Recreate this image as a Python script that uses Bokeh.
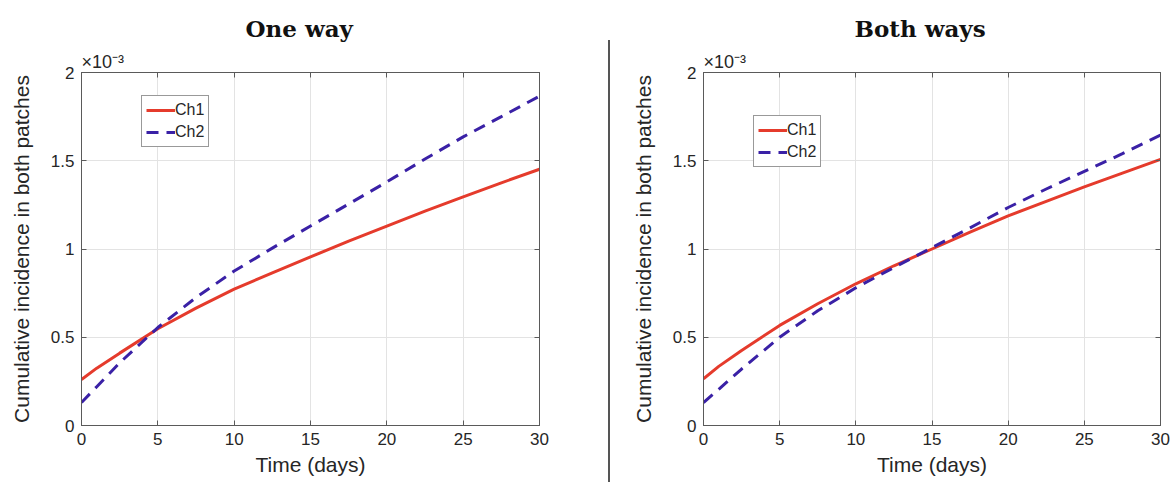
from bokeh.plotting import figure
from bokeh.models import (Legend, LegendItem, LinearAxis, FixedTicker,
                          CustomJSTickFormatter, Range1d, Div, Title)
from bokeh.layouts import row
from bokeh.embed import file_html
from bokeh.resources import INLINE

# ---------------- data (incidence values in units of 1e-3) ----------------
days = [0, 1, 2.5, 5, 7.5, 10, 12.5, 15, 17.5, 20, 22.5, 25, 27.5, 30]

one_way_ch1 = [0.26, 0.325, 0.41, 0.548, 0.665, 0.773, 0.865, 0.955, 1.045,
               1.13, 1.215, 1.295, 1.375, 1.452]
one_way_ch2 = [0.13, 0.22, 0.355, 0.555, 0.725, 0.875, 1.005, 1.13, 1.255,
               1.38, 1.51, 1.635, 1.75, 1.866]

both_ways_ch1 = [0.265, 0.335, 0.425, 0.567, 0.69, 0.803, 0.905, 1.0, 1.095,
                 1.188, 1.27, 1.352, 1.43, 1.508]
both_ways_ch2 = [0.13, 0.205, 0.32, 0.50, 0.65, 0.78, 0.895, 1.008, 1.12,
                 1.235, 1.34, 1.44, 1.54, 1.645]

x_ticks = [0, 5, 10, 15, 20, 25, 30]
y_ticks = [0, 0.5, 1, 1.5, 2]
titles = ["One way", "Both ways"]
series_names = ["Ch1", "Ch2"]
x_label = "Time (days)"
y_label = "Cumulative incidence in both patches"
exponent_text = "\u00d710\u207b\u00b3"

RED = "#e53b2c"
BLUE = "#3a21a6"
AXIS = "#5a5a5a"
TXT = "#262626"
FONT = "Liberation Sans"


def make_panel(title, ch1, ch2, width, bl, br, leg_x, leg_y, title_dx):
    p = figure(width=width, height=482, x_range=Range1d(0, 30), y_range=Range1d(0, 2),
               output_backend="svg", toolbar_location=None,
               min_border_left=bl, min_border_right=br,
               min_border_top=72, min_border_bottom=57)
    p.background_fill_color = "white"
    p.border_fill_color = "white"
    p.outline_line_color = AXIS
    p.outline_line_width = 1

    fmt = CustomJSTickFormatter(code="return tick.toString();")
    blank = CustomJSTickFormatter(code="return '';")

    xb = p.below[0]
    yl = p.left[0]
    xb.ticker = FixedTicker(ticks=x_ticks)
    xb.formatter = fmt
    xb.axis_label = x_label
    xb.major_label_standoff = 7
    xb.axis_label_standoff = 5
    yl.ticker = FixedTicker(ticks=y_ticks)
    yl.formatter = fmt
    yl.axis_label = y_label
    yl.major_label_standoff = 7
    yl.axis_label_standoff = 15

    # box axes on top and right (ticks only)
    xa = LinearAxis(ticker=FixedTicker(ticks=x_ticks), formatter=blank, major_label_standoff=0)
    yr = LinearAxis(ticker=FixedTicker(ticks=y_ticks), formatter=blank, major_label_standoff=0)
    p.add_layout(xa, "above")
    p.add_layout(yr, "right")

    for ax in (xb, yl, xa, yr):
        ax.axis_line_color = AXIS
        ax.major_tick_line_color = AXIS
        ax.major_tick_in = 5
        ax.major_tick_out = 0
        ax.minor_tick_line_color = None
        ax.major_label_text_font = FONT
        ax.major_label_text_color = TXT
        ax.major_label_text_font_size = "17px"
        ax.axis_label_text_font = FONT
        ax.axis_label_text_font_style = "normal"
        ax.axis_label_text_color = TXT
        ax.axis_label_text_font_size = "21px"

    p.xgrid.ticker = FixedTicker(ticks=x_ticks)
    p.ygrid.ticker = FixedTicker(ticks=y_ticks)
    p.grid.grid_line_color = "#e3e3e3"
    p.grid.grid_line_width = 1

    r1 = p.line(days, ch1, line_color=RED, line_width=3)
    r2 = p.line(days, ch2, line_color=BLUE, line_width=3, line_dash="12 8")

    legend = Legend(items=[LegendItem(label=series_names[0], renderers=[r1]),
                           LegendItem(label=series_names[1], renderers=[r2])],
                    location=(leg_x, leg_y))
    legend.border_line_color = "#333333"
    legend.border_line_width = 1
    legend.background_fill_color = "white"
    legend.background_fill_alpha = 1
    legend.label_text_font = FONT
    legend.label_text_font_size = "16px"
    legend.label_text_color = TXT
    legend.glyph_width = 29
    legend.glyph_height = 20
    legend.label_height = 20
    legend.label_standoff = 0
    legend.padding = 4
    legend.spacing = 2
    legend.margin = 0
    p.add_layout(legend)

    # exponent (closest to the frame), then main title
    p.add_layout(Title(text=exponent_text, align="left", offset=0, standoff=1,
                       text_font=FONT, text_font_style="normal",
                       text_font_size="18px", text_color=TXT), "above")
    p.add_layout(Title(text=title, align="left", offset=title_dx, standoff=16,
                       text_font="DejaVu Serif", text_font_style="bold",
                       text_font_size="23px", text_color="#111111"), "above")
    return p


p1 = make_panel(titles[0], one_way_ch1, one_way_ch2, 608, 81, 69, 60, 278, 164)
p2 = make_panel(titles[1], both_ways_ch1, both_ways_ch2, 563, 93, 13, 50, 258, 151)

sep = Div(text="", width=2, height=442, margin=(40, 0, 0, 0),
          styles={"background-color": "#555555"})

layout = row(p1, sep, p2)

open("out.html", "w").write(file_html(layout, INLINE))
